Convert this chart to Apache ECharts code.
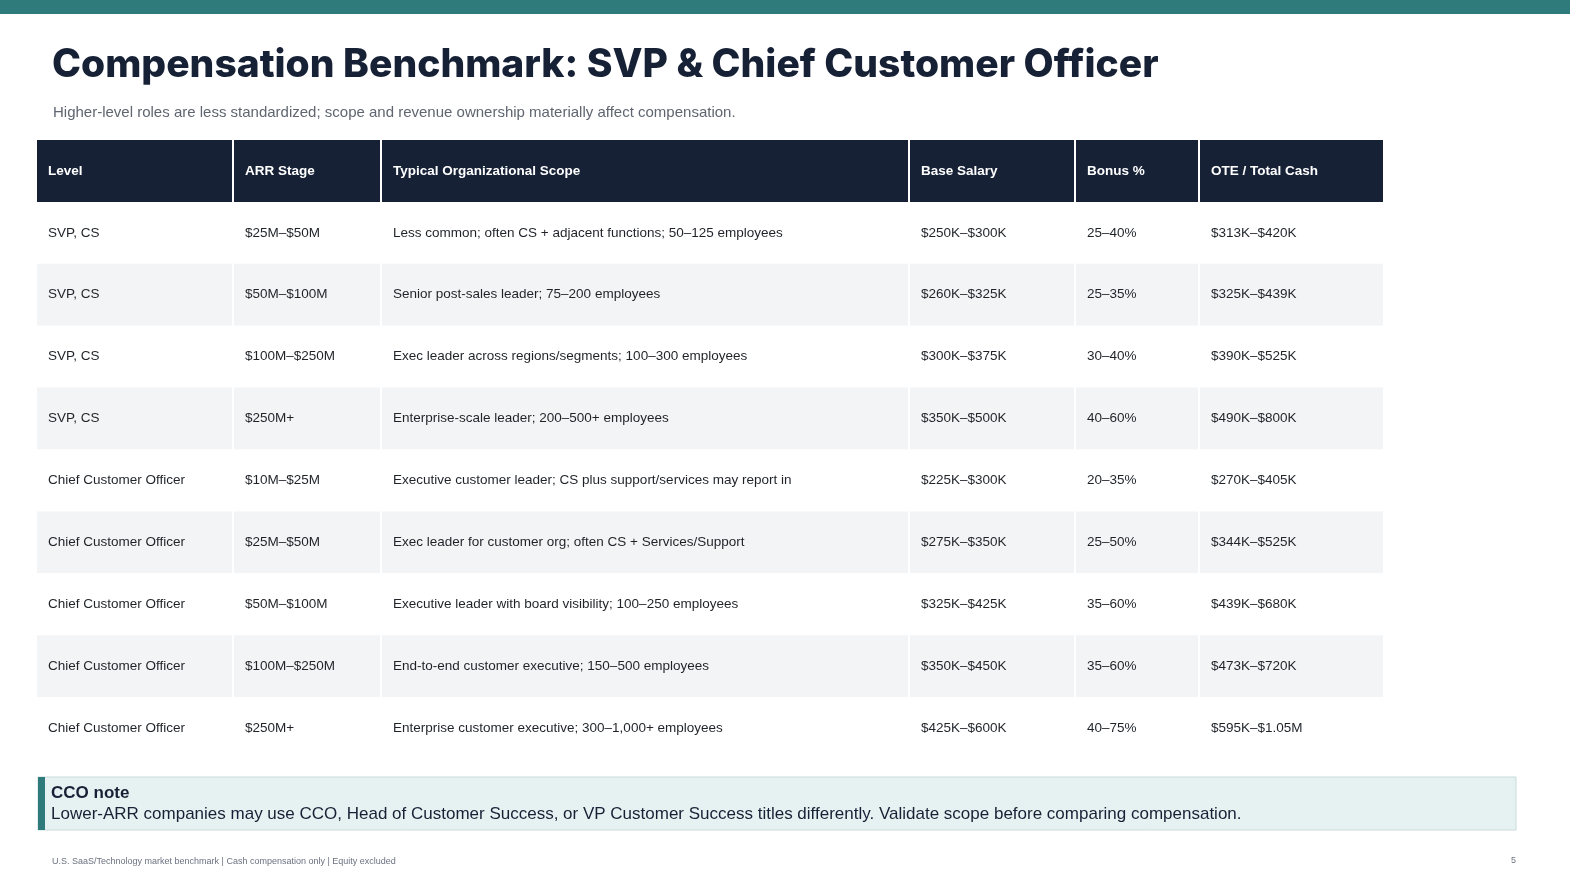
<!DOCTYPE html>
<html>
<head>
<meta charset="utf-8">
<script src="https://cdn.jsdelivr.net/npm/echarts@6/dist/echarts.min.js"></script>
<style>html,body{margin:0;padding:0;background:#fff}#main{width:1570px;height:870px}</style>
</head>
<body>
<div id="main"></div>
<script>
// table content
var headers = ['Level', 'ARR Stage', 'Typical Organizational Scope', 'Base Salary', 'Bonus %', 'OTE / Total Cash']
var levels = ['SVP, CS', 'SVP, CS', 'SVP, CS', 'SVP, CS', 'Chief Customer Officer', 'Chief Customer Officer', 'Chief Customer Officer', 'Chief Customer Officer', 'Chief Customer Officer']
var arrStages = ['$25M–$50M', '$50M–$100M', '$100M–$250M', '$250M+', '$10M–$25M', '$25M–$50M', '$50M–$100M', '$100M–$250M', '$250M+']
var scopes = [
    'Less common; often CS + adjacent functions; 50–125 employees',
    'Senior post-sales leader; 75–200 employees',
    'Exec leader across regions/segments; 100–300 employees',
    'Enterprise-scale leader; 200–500+ employees',
    'Executive customer leader; CS plus support/services may report in',
    'Exec leader for customer org; often CS + Services/Support',
    'Executive leader with board visibility; 100–250 employees',
    'End-to-end customer executive; 150–500 employees',
    'Enterprise customer executive; 300–1,000+ employees'
]
var baseSalaries = ['$250K–$300K', '$260K–$325K', '$300K–$375K', '$350K–$500K', '$225K–$300K', '$275K–$350K', '$325K–$425K', '$350K–$450K', '$425K–$600K']
var bonuses = ['25–40%', '25–35%', '30–40%', '40–60%', '20–35%', '25–50%', '35–60%', '35–60%', '40–75%']
var otes = ['$313K–$420K', '$325K–$439K', '$390K–$525K', '$490K–$800K', '$270K–$405K', '$344K–$525K', '$439K–$680K', '$473K–$720K', '$595K–$1.05M']

// column edges on the x value axis
var colEdges = [0, 195, 343, 871, 1037, 1161, 1346]

var columns = [levels, arrStages, scopes, baseSalaries, bonuses, otes]
var rowNames = ['header']
for (var r = 0; r < levels.length; r++) rowNames.push('row' + r)

var cells = []
for (var c = 0; c < headers.length; c++) {
    cells.push([colEdges[c], colEdges[c + 1], 0, headers[c]])
    for (var r = 0; r < levels.length; r++) {
        cells.push([colEdges[c], colEdges[c + 1], r + 1, columns[c][r]])
    }
}

function renderCell(params, api) {
    var row = api.value(2)
    var p0 = api.coord([api.value(0), rowNames[row]])
    var p1 = api.coord([api.value(1), rowNames[row]])
    var h = api.size([0, 1])[1]
    var isHeader = row === 0
    var fill = isHeader ? '#172136' : (row % 2 === 0 ? '#f3f4f6' : '#ffffff')
    var gap = api.value(0) === 0 ? 0 : 2
    return {
        type: 'group',
        children: [{
            type: 'rect',
            shape: { x: p0[0] + gap, y: p0[1] - h / 2, width: p1[0] - p0[0] - gap, height: h },
            style: { fill: fill }
        }, {
            type: 'text',
            style: {
                x: p0[0] + gap + 11, y: p0[1],
                text: cells[params.dataIndex][3],
                fill: isHeader ? '#ffffff' : '#1f2328',
                font: (isHeader ? 'bold ' : '') + '13.5px Arial, "Liberation Sans", sans-serif',
                textVerticalAlign: 'middle'
            }
        }]
    }
}

var chart = echarts.init(document.getElementById('main'))
chart.setOption({
    animation: false,
    grid: { left: 37, right: 187, top: 140, bottom: 111 },
    xAxis: { type: 'value', min: 0, max: 1346, show: false },
    yAxis: { type: 'category', data: rowNames, inverse: true, show: false },
    series: [{ type: 'custom', renderItem: renderCell, data: cells, encode: { x: [0, 1], y: 2 } }],
    graphic: [
        { type: 'rect', shape: { x: 0, y: 0, width: 1570, height: 14 }, style: { fill: '#2f7a7a' } },
        { type: 'text', left: 52, top: 46, style: { text: 'Compensation Benchmark: SVP & Chief Customer Officer', fill: '#172136', font: '800 39px Inter, "Open Sans", sans-serif' } },
        { type: 'text', left: 53, top: 105, style: { text: 'Higher-level roles are less standardized; scope and revenue ownership materially affect compensation.', fill: '#5f6670', font: '15px Arial, "Liberation Sans", sans-serif' } },
        { type: 'rect', shape: { x: 38, y: 777, width: 1478, height: 53 }, style: { fill: '#e6f2f2', stroke: '#c9dada', lineWidth: 1 } },
        { type: 'rect', shape: { x: 38, y: 777, width: 7, height: 53 }, style: { fill: '#2f7a7a' } },
        { type: 'text', left: 51, top: 785, style: { text: 'CCO note', fill: '#172136', font: 'bold 17px Arial, "Liberation Sans", sans-serif' } },
        { type: 'text', left: 51, top: 806, style: { text: 'Lower-ARR companies may use CCO, Head of Customer Success, or VP Customer Success titles differently. Validate scope before comparing compensation.', fill: '#172136', font: '17px Arial, "Liberation Sans", sans-serif' } },
        { type: 'text', left: 52, top: 857, style: { text: 'U.S. SaaS/Technology market benchmark | Cash compensation only | Equity excluded', fill: '#6b7280', font: '9px Arial, "Liberation Sans", sans-serif' } },
        { type: 'text', left: 1511, top: 856, style: { text: '5', fill: '#6b7280', font: '9px Arial, "Liberation Sans", sans-serif' } }
    ]
})
</script>
</body>
</html>
